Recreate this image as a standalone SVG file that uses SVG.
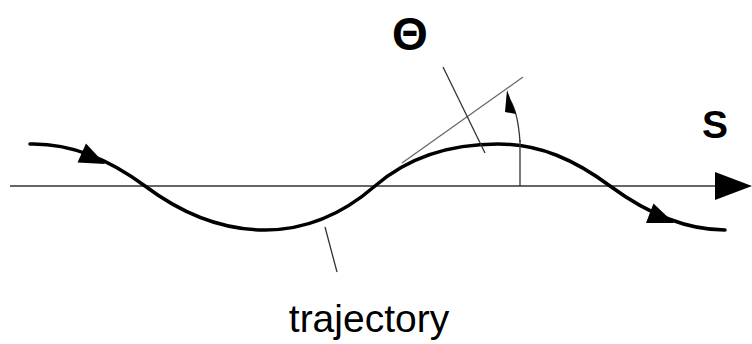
<svg xmlns="http://www.w3.org/2000/svg" width="752" height="344" viewBox="0 0 752 344">
<style>
.txt{font-family:"Liberation Sans",Arial,sans-serif;fill:#000}
.curve{fill:none;stroke:#000;stroke-width:3.5;stroke-linecap:round}
.thin{fill:none;stroke:#333;stroke-width:1.3}
.light{fill:none;stroke:#666;stroke-width:1.2}
.head{fill:#000;stroke:none}
</style>
<rect width="752" height="344" fill="#fff"/>
<g id="connectors">
<g id="axis">
<line class="thin" x1="10" y1="186" x2="718" y2="186" stroke-width="1.6"/>
<polygon class="head" points="715,172 752,186 715,200"/>
</g>
<g id="trajectory-curve">
<path class="curve" d="M30,144 C70,143 110,160 145,186 C185,216 225,230 265,230 C310,230 345,212 375,186 C405,160 445,144 498,144 C540,144 575,160 610,186 C640,208 680,230 725,230"/>
<polygon class="head" points="105,164 77.5,162.5 86,143.5"/>
<polygon class="head" points="674,223 646,223 653.5,203.5"/>
</g>
<line id="tangent" class="light" x1="402" y1="163" x2="523" y2="77"/>
<line id="normal" class="thin" x1="443" y1="67" x2="485" y2="153"/>
<line id="vertical" class="thin" x1="520" y1="186" x2="520" y2="140" stroke-width="1.5"/>
<path id="angle-arc" class="thin" d="M520,142 Q518,112 510,100" stroke-width="1.8"/>
<polygon class="head" points="507,90 516,114 505,112"/>
<line id="trajectory-pointer" class="thin" x1="325" y1="227" x2="337" y2="272"/>
</g>
<g id="label-theta"><text class="txt" x="410" y="50" font-size="46" font-weight="bold" text-anchor="middle">Θ</text></g>
<g id="label-s"><text class="txt" x="715" y="138" font-size="39" font-weight="bold" text-anchor="middle">S</text></g>
<g id="label-trajectory"><text class="txt" x="369" y="332" font-size="39" text-anchor="middle">trajectory</text></g>
</svg>
